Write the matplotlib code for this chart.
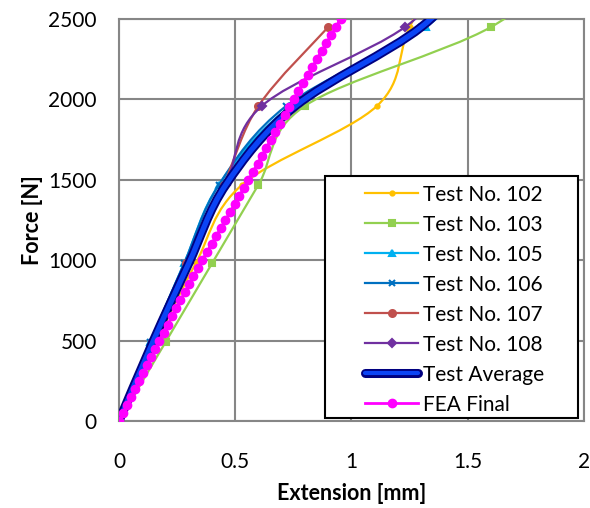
import numpy as np
import matplotlib.pyplot as plt
from matplotlib.path import Path
from matplotlib.patches import PathPatch, Rectangle
from matplotlib.lines import Line2D

plt.rcParams['font.family'] = ['Lato', 'DejaVu Sans']

# test readings every 50 kgf (490 N), last point lies above the plotted range
force_test = [0, 490, 980, 1470, 1960, 2450, 2940]
ext_102 = [0, 0.16, 0.33, 0.53, 1.11, 1.25, 1.45]
ext_103 = [0, 0.20, 0.40, 0.60, 0.80, 1.60, 2.00]
ext_105 = [0, 0.135, 0.28, 0.43, 0.74, 1.32, 1.65]
ext_106 = [0, 0.135, 0.28, 0.43, 0.72, 1.30, 1.62]
ext_107 = [0, 0.14, 0.29, 0.45, 0.60, 0.90]
ext_108 = [0, 0.15, 0.30, 0.46, 0.615, 1.23, 1.55]
ext_avg = [0, 0.145, 0.30, 0.46, 0.76, 1.30, 1.62]

# FEA output
force_fea = [0, 50, 100, 150, 200, 250, 300, 350, 400, 450, 500, 550, 600,
             650, 700, 750, 800, 850, 900, 950, 1000, 1050, 1100, 1150, 1200,
             1250, 1300, 1350, 1400, 1450, 1500, 1550, 1600, 1650, 1700, 1750,
             1800, 1850, 1900, 1950, 2000, 2050, 2100, 2150, 2200, 2250, 2300,
             2350, 2400, 2450, 2500]
ext_fea = [0.000, 0.017, 0.034, 0.052, 0.069, 0.087, 0.104, 0.121, 0.139,
           0.156, 0.174, 0.192, 0.210, 0.228, 0.246, 0.264, 0.283, 0.301,
           0.320, 0.339, 0.358, 0.378, 0.398, 0.418, 0.438, 0.458, 0.478,
           0.498, 0.518, 0.537, 0.557, 0.576, 0.596, 0.615, 0.634, 0.654,
           0.673, 0.692, 0.712, 0.731, 0.751, 0.771, 0.791, 0.811, 0.831,
           0.851, 0.871, 0.892, 0.912, 0.933, 0.953]

x_ticks = [0, 0.5, 1, 1.5, 2]
y_ticks = [0, 500, 1000, 1500, 2000, 2500]


def smooth_path(x, y):
    # excel style smoothed line: catmull-rom as cubic bezier segments
    p = np.column_stack([x, y]).astype(float)
    pts = np.vstack([p[0], p, p[-1]])
    verts = [p[0]]
    codes = [Path.MOVETO]
    for i in range(1, len(pts) - 2):
        c1 = pts[i] + (pts[i + 1] - pts[i - 1]) / 6
        c2 = pts[i + 1] - (pts[i + 2] - pts[i]) / 6
        verts += [c1, c2, pts[i + 1]]
        codes += [Path.CURVE4] * 3
    return Path(verts, codes)


def add_curve(ax, x, y, color, lw, z):
    patch = PathPatch(smooth_path(x, y), facecolor='none', edgecolor=color,
                      lw=lw, zorder=z, capstyle='round', joinstyle='round')
    ax.add_patch(patch)


fig = plt.figure(figsize=(5.9, 5.08), dpi=100)
ax = fig.add_axes([0.2017, 0.1713, 0.7881, 0.7913])

series = [
    ("Test No. 102", ext_102, '#FFC000', 'o', 3),
    ("Test No. 103", ext_103, '#92D050', 's', 5),
    ("Test No. 105", ext_105, '#00B0F0', '^', 5),
    ("Test No. 106", ext_106, '#0070C0', 'x', 5),
    ("Test No. 107", ext_107, '#C0504D', 'o', 5),
    ("Test No. 108", ext_108, '#7030A0', 'D', 4),
]

handles = []
for i, (name, ext, col, mk, ms) in enumerate(series):
    f = force_test[:len(ext)]
    add_curve(ax, ext, f, col, 1.6, 3 + i)
    ax.plot(ext, f, ls='none', marker=mk, ms=ms, color=col, mec=col,
            mew=1.5, zorder=3 + i)
    handles.append(Line2D([], [], color=col, lw=1.6, marker=mk, ms=ms,
                          mew=1.5, label=name))

# test average, thick navy with bright blue core
add_curve(ax, ext_avg, force_test, '#000080', 6.5, 10)
add_curve(ax, ext_avg, force_test, '#0B44F5', 3.8, 10.5)
avg_handle = (Line2D([], [], color='#000080', lw=6.5, solid_capstyle='round'),
              Line2D([], [], color='#0B44F5', lw=3.0, solid_capstyle='round'))

# FEA
ax.plot(ext_fea, force_fea, color='#FF00FF', lw=2, marker='o', ms=6,
        zorder=12)
fea_handle = Line2D([], [], color='#FF00FF', lw=2, marker='o', ms=6)

ax.set_xlim(0, 2)
ax.set_ylim(0, 2500)
ax.set_xticks(x_ticks)
ax.set_xticklabels(['0', '0.5', '1', '1.5', '2'])
ax.set_yticks(y_ticks)
ax.grid(True, color='#868686', lw=1.5)
ax.set_axisbelow(True)
for s in ax.spines.values():
    s.set_color('#868686')
    s.set_linewidth(1.5)
ax.tick_params(length=0, labelsize=15)
ax.tick_params(axis='x', pad=22)
ax.tick_params(axis='y', pad=16)

ax.set_xlabel("Extension [mm]", fontsize=15.5, fontweight='bold', labelpad=8)
ax.set_ylabel("Force [N]", fontsize=15.5, fontweight='bold', labelpad=4)

# legend box drawn separately, excel leaves a wide left margin
box = Rectangle((0.443, 0.0075), 0.544, 0.602, transform=ax.transAxes,
                facecolor='white', edgecolor='black', lw=1.5, zorder=19)
ax.add_patch(box)

leg = ax.legend(handles + [avg_handle, fea_handle],
                [h.get_label() for h in handles] + ["Test Average", "FEA Final"],
                loc='upper left', bbox_to_anchor=(0.529, 0.588),
                fontsize=15, frameon=False, handlelength=2.55,
                handletextpad=0.25, labelspacing=0.48, borderpad=0,
                borderaxespad=0)
leg.set_zorder(20)

plt.savefig("out.png", dpi=100)
